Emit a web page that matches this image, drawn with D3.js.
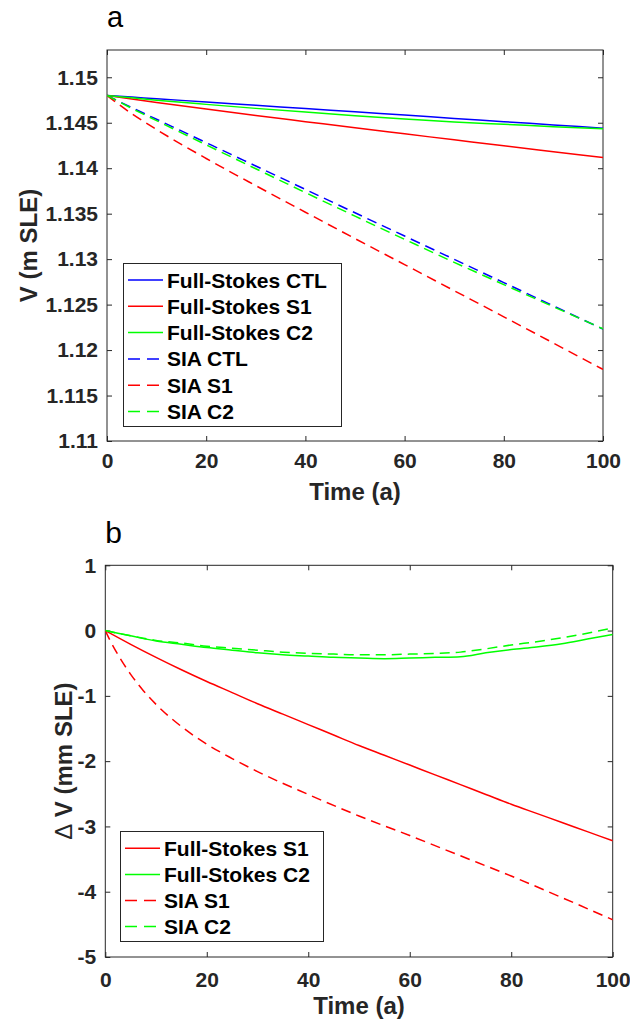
<!DOCTYPE html>
<html><head><meta charset="utf-8">
<script src="https://cdn.jsdelivr.net/npm/d3@7"></script>
<style>
body{margin:0;background:#fff;}
svg{display:block;font-family:"Liberation Sans",Arial,Helvetica,sans-serif;}
</style></head>
<body>
<svg id="chart" width="630" height="1024"></svg>
<script>
// ---------- Panel a data ----------
const tA = [0,5,10,20,30,40,50,60,70,80,90,100];
const fsCTL = [1.1480,1.14782,1.14764,1.14728,1.14692,1.14656,1.14620,1.14584,1.14548,1.14512,1.14476,1.14440];
const fsS1  = [1.1480,1.14761,1.14723,1.14650,1.14580,1.14512,1.14444,1.14378,1.14312,1.14246,1.14182,1.14118];
const fsC2  = [1.1480,1.14774,1.14748,1.14702,1.14658,1.14617,1.14578,1.14542,1.14508,1.14483,1.14456,1.14434];
const siaCTL= [1.1480,1.14666,1.14538,1.14281,1.14024,1.13767,1.13510,1.13254,1.12998,1.12742,1.12486,1.12230];
const siaS1 = [1.1480,1.14599,1.14425,1.14107,1.13808,1.13516,1.13226,1.12940,1.12653,1.12366,1.12077,1.11787];
const siaC2 = [1.1480,1.14658,1.14523,1.14257,1.13994,1.13732,1.13473,1.13218,1.12965,1.12720,1.12476,1.12234];
const xTicks = [0,20,40,60,80,100];
const yTicksA = [1.11,1.115,1.12,1.125,1.13,1.135,1.14,1.145,1.15];
const yTickLabelsA = ["1.11","1.115","1.12","1.125","1.13","1.135","1.14","1.145","1.15"];
const legendA = ["Full-Stokes CTL","Full-Stokes S1","Full-Stokes C2","SIA CTL","SIA S1","SIA C2"];

// ---------- Panel b data ----------
const tB = [0,5,10,15,20,25,30,35,40,45,50,55,60,65,70,75,80,85,90,95,100];
const dFsS1 = [0,-0.21,-0.41,-0.60,-0.78,-0.95,-1.12,-1.28,-1.44,-1.60,-1.76,-1.91,-2.06,-2.21,-2.36,-2.51,-2.66,-2.80,-2.94,-3.08,-3.22];
const dFsC2 = [0,-0.08,-0.16,-0.21,-0.26,-0.30,-0.34,-0.37,-0.39,-0.41,-0.42,-0.43,-0.42,-0.41,-0.40,-0.34,-0.29,-0.25,-0.20,-0.13,-0.06];
const dSiaC2= [0,-0.08,-0.15,-0.19,-0.24,-0.27,-0.30,-0.33,-0.35,-0.36,-0.37,-0.37,-0.36,-0.35,-0.33,-0.28,-0.22,-0.17,-0.11,-0.04,0.04];
const tBs1 = [0,1,2.5,5,7.5,10,15,20,25,30,40,50,60,70,80,90,100];
const dSiaS1= [0,-0.16,-0.37,-0.67,-0.92,-1.13,-1.47,-1.74,-1.96,-2.16,-2.51,-2.84,-3.14,-3.45,-3.76,-4.09,-4.43];
const yTicksB = [-5,-4,-3,-2,-1,0,1];
const yTickLabelsB = ["-5","-4","-3","-2","-1","0","1"];
const legendB = ["Full-Stokes S1","Full-Stokes C2","SIA S1","SIA C2"];

const BLUE="#0000ff", RED="#ff0000", GREEN="#00ff00", AX="#262626";
const svg = d3.select("#chart");

function panel(cfg){
  const g = svg.append("g");
  const x = d3.scaleLinear().domain([0,100]).range([cfg.left,cfg.right]);
  const y = d3.scaleLinear().domain(cfg.ydom).range([cfg.bottom,cfg.top]);
  g.append("rect").attr("x",cfg.left).attr("y",cfg.top)
    .attr("width",cfg.right-cfg.left).attr("height",cfg.bottom-cfg.top)
    .attr("fill","none").attr("stroke",AX).attr("stroke-width",1);
  const ts = 5;
  const axB = d3.axisBottom(x).tickValues(xTicks).tickSize(-ts).tickPadding(cfg.xpad).tickFormat(d3.format("d"));
  const axT = d3.axisTop(x).tickValues(xTicks).tickSize(-ts).tickFormat("");
  const axL = d3.axisLeft(y).tickValues(cfg.yt).tickSize(-ts).tickPadding(9).tickFormat((d,i)=>cfg.ytl[i]);
  const axR = d3.axisRight(y).tickValues(cfg.yt).tickSize(-ts).tickFormat("");
  [[axB,`translate(0,${cfg.bottom})`],[axT,`translate(0,${cfg.top})`],
   [axL,`translate(${cfg.left},0)`],[axR,`translate(${cfg.right},0)`]].forEach(([a,t])=>{
    const ag = g.append("g").attr("transform",t).call(a);
    ag.select(".domain").remove();
    ag.selectAll(".tick line").attr("stroke",AX);
    ag.selectAll("text").attr("fill",AX).attr("font-size",21).attr("font-weight","bold")
      .attr("font-family","'Liberation Sans',Arial,sans-serif");
  });
  const clipId = "clip"+cfg.id;
  g.append("clipPath").attr("id",clipId).append("rect")
    .attr("x",cfg.left).attr("y",cfg.top).attr("width",cfg.right-cfg.left).attr("height",cfg.bottom-cfg.top);
  const lg = g.append("g").attr("clip-path",`url(#${clipId})`);
  cfg.series.forEach(s=>{
    const line = d3.line().x((d,i)=>x(s.t[i])).y(d=>y(d)).curve(d3.curveMonotoneX);
    lg.append("path").datum(s.v).attr("d",line).attr("fill","none")
      .attr("stroke",s.c).attr("stroke-width",1.5)
      .attr("stroke-dasharray",s.dash?"10,6":null);
  });
  g.append("text").attr("x",(cfg.left+cfg.right)/2).attr("y",cfg.xlabY)
    .attr("text-anchor","middle").attr("font-size",24).attr("font-weight","bold").attr("fill",AX).text("Time (a)");
  const yl = g.append("text").attr("transform",`translate(${cfg.ylabX},${(cfg.top+cfg.bottom)/2}) rotate(-90)`)
    .attr("text-anchor","middle").attr("font-size",24).attr("font-weight","bold").attr("fill",AX);
  if(cfg.delta){
    yl.append("tspan").attr("font-weight","normal").text("\u0394");
    yl.append("tspan").text(" " + cfg.ylab);
  } else yl.text(cfg.ylab);
  g.append("text").attr("x",cfg.left).attr("y",cfg.letterY).attr("font-size",cfg.letterSize).attr("fill","#000").text(cfg.letter);
  const L = cfg.leg;
  g.append("rect").attr("x",L.x0).attr("y",L.y0).attr("width",L.x1-L.x0).attr("height",L.y1-L.y0)
    .attr("fill","#fff").attr("stroke",AX).attr("stroke-width",1);
  cfg.series.forEach((s,i)=>{
    const cy = L.first + i*L.step;
    g.append("line").attr("x1",L.lx0).attr("x2",L.lx1).attr("y1",cy).attr("y2",cy)
      .attr("stroke",s.c).attr("stroke-width",1.5).attr("stroke-dasharray",s.dash?"12,7":null);
    g.append("text").attr("x",L.tx).attr("y",cy).attr("dy","0.36em").attr("font-size",21)
      .attr("font-weight","bold").attr("fill","#000").text(s.name);
  });
}

panel({id:"a",left:107,right:603,top:50,bottom:441,ydom:[1.11,1.153],yt:yTicksA,ytl:yTickLabelsA,xpad:12,
  xlabY:500,ylabX:37,ylab:"V (m SLE)",letter:"a",letterY:27,letterSize:29,
  series:[
    {name:legendA[0],t:tA,v:fsCTL,c:BLUE,dash:false},
    {name:legendA[1],t:tA,v:fsS1,c:RED,dash:false},
    {name:legendA[2],t:tA,v:fsC2,c:GREEN,dash:false},
    {name:legendA[3],t:tA,v:siaCTL,c:BLUE,dash:true},
    {name:legendA[4],t:tA,v:siaS1,c:RED,dash:true},
    {name:legendA[5],t:tA,v:siaC2,c:GREEN,dash:true}],
  leg:{x0:123.5,y0:263.5,x1:341.5,y1:426.5,lx0:128,lx1:163,tx:167,first:280,step:26.3}
});
panel({id:"b",left:105.3,right:612.7,top:565.3,bottom:957,ydom:[-5,1],yt:yTicksB,ytl:yTickLabelsB,xpad:15,
  xlabY:1014,ylabX:72,ylab:"V (mm SLE)",delta:true,letter:"b",letterY:543,letterSize:30,
  series:[
    {name:legendB[0],t:tB,v:dFsS1,c:RED,dash:false},
    {name:legendB[1],t:tB,v:dFsC2,c:GREEN,dash:false},
    {name:legendB[2],t:tBs1,v:dSiaS1,c:RED,dash:true},
    {name:legendB[3],t:tB,v:dSiaC2,c:GREEN,dash:true}],
  leg:{x0:120.5,y0:831.5,x1:323.5,y1:941.5,lx0:125,lx1:160,tx:164,first:848.3,step:26.1}
});
</script>
</body></html>
